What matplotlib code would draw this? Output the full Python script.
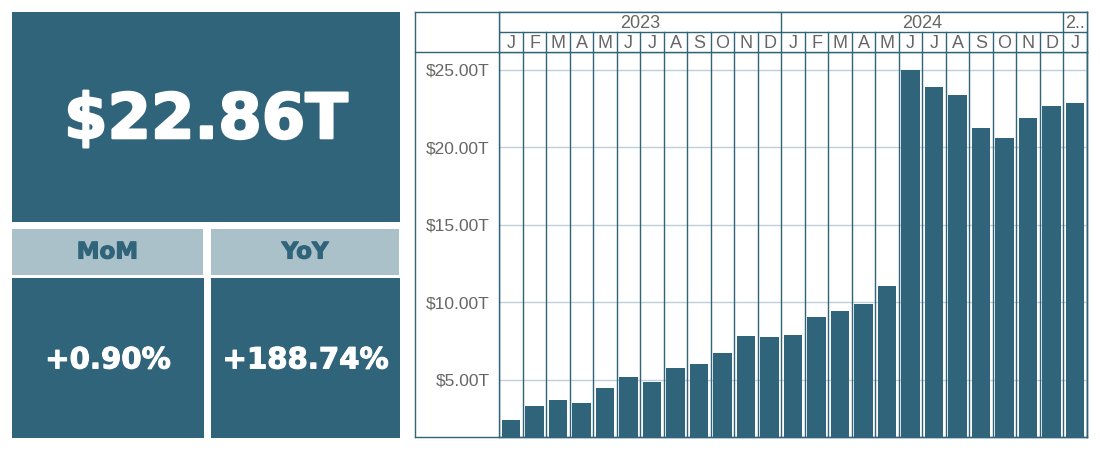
import matplotlib.pyplot as plt
import matplotlib.patheffects as pe
from matplotlib.lines import Line2D

# Taille de la figure en pixels
W, H = 1100, 450

# Couleurs
teal = '#30647a'
light = '#abc1c9'
grid_col = '#bfd1d8'
txt_grey = '#666666'

# Données
months = ['J', 'F', 'M', 'A', 'M', 'J', 'J', 'A', 'S', 'O', 'N', 'D'] * 2 + ['J']
years = ['2023', '2024', '2..']
year_span = [12, 12, 1]
values = [2.42, 3.32, 3.71, 3.52, 4.48, 5.19, 4.87, 5.77, 6.03, 6.74, 7.84, 7.77,
          7.92, 9.06, 9.45, 9.90, 11.06, 25.00, 23.90, 23.39, 21.26, 20.61, 21.90, 22.66, 22.86]
yticks = [5, 10, 15, 20, 25]
kpi_total = '$22.86T'
kpi_labels = ['MoM', 'YoY']
kpi_values = ['+0.90%', '+188.74%']

fig = plt.figure(figsize=(W / 100, H / 100), dpi=100)


def px_axes(x0, y0, x1, y1, **kw):
    # axes placé avec des coordonnées en pixels (origine en haut à gauche)
    return fig.add_axes([x0 / W, 1 - y1 / H, (x1 - x0) / W, (y1 - y0) / H], **kw)


def box(x0, y0, x1, y1, color, text, tcolor, size, stroke=0.8, ty=0.5):
    ax = px_axes(x0, y0, x1, y1)
    ax.set_facecolor(color)
    ax.set_xticks([])
    ax.set_yticks([])
    for s in ax.spines.values():
        s.set_visible(False)
    t = ax.text(0.5, ty, text, ha='center', va='center', color=tcolor, fontsize=size,
                fontweight='bold', family='DejaVu Sans', transform=ax.transAxes)
    # un léger contour pour épaissir le texte
    t.set_path_effects([pe.withStroke(linewidth=stroke, foreground=tcolor)])
    return ax


# Panneaux KPI à gauche
box(12, 12, 400, 222, teal, kpi_total, 'white', 45, stroke=1.6, ty=0.48)
box(12, 229, 203, 275, light, kpi_labels[0], teal, 16.5)
box(211, 229, 399, 275, light, kpi_labels[1], teal, 16.5)
box(12, 278, 204, 438, teal, kpi_values[0], 'white', 21, ty=0.485)
box(211, 278, 400, 438, teal, kpi_values[1], 'white', 21, ty=0.485)

# Cadre extérieur du graphique
frame = px_axes(415, 12, 1087, 437)
frame.set_xticks([])
frame.set_yticks([])
for s in frame.spines.values():
    s.set_color(teal)
    s.set_linewidth(1)
fig.add_artist(Line2D([415 / W, 499 / W], [1 - 52 / H] * 2, color=teal, lw=1))

# Graphique principal
n = len(values)
ax = px_axes(499.3, 52, 1086.8, 437.3)
ax.set_facecolor('none')
ax.bar(range(n), values, width=0.78, color=teal, zorder=2)
ax.set_xlim(-0.5, n - 0.5)
ax.set_ylim(1.3, 26.16)
for v in yticks:
    ax.axhline(v, color=grid_col, lw=1, zorder=0)
for k in range(n + 1):
    ax.axvline(k - 0.5, color=teal, lw=1, zorder=1)
ax.set_xticks([])
ax.set_yticks(yticks)
ax.set_yticklabels(['$%.2fT' % v for v in yticks], family='Liberation Sans',
                   fontsize=12.5, color=txt_grey)
ax.tick_params(axis='y', length=0, pad=7)
for s in ax.spines.values():
    s.set_color(teal)
    s.set_linewidth(1)

# En-tête : années et mois
hdr = px_axes(499.3, 12, 1086.8, 52)
hdr.set_xlim(-0.5, n - 0.5)
hdr.set_ylim(0, 2)
hdr.set_xticks([])
hdr.set_yticks([])
for s in hdr.spines.values():
    s.set_color(teal)
    s.set_linewidth(1)
hdr.axhline(1, color=teal, lw=1)
for k in range(n + 1):
    hdr.plot([k - 0.5, k - 0.5], [0, 1], color=teal, lw=1)
for i, m in enumerate(months):
    hdr.text(i, 0.45, m, ha='center', va='center', fontsize=13,
             family='Liberation Sans', color=txt_grey)
start = 0
for y, span in zip(years, year_span):
    hdr.plot([start - 0.5, start - 0.5], [1, 2], color=teal, lw=1)
    if span > 1:
        hdr.text(start + span / 2 - 0.5, 1.45, y, ha='center', va='center', fontsize=13,
                 family='Liberation Sans', color=txt_grey)
    else:
        hdr.text(start - 0.44, 1.45, y, ha='left', va='center', fontsize=13,
                 family='Liberation Sans', color=txt_grey)
    start += span

fig.savefig('out.png', dpi=100)
